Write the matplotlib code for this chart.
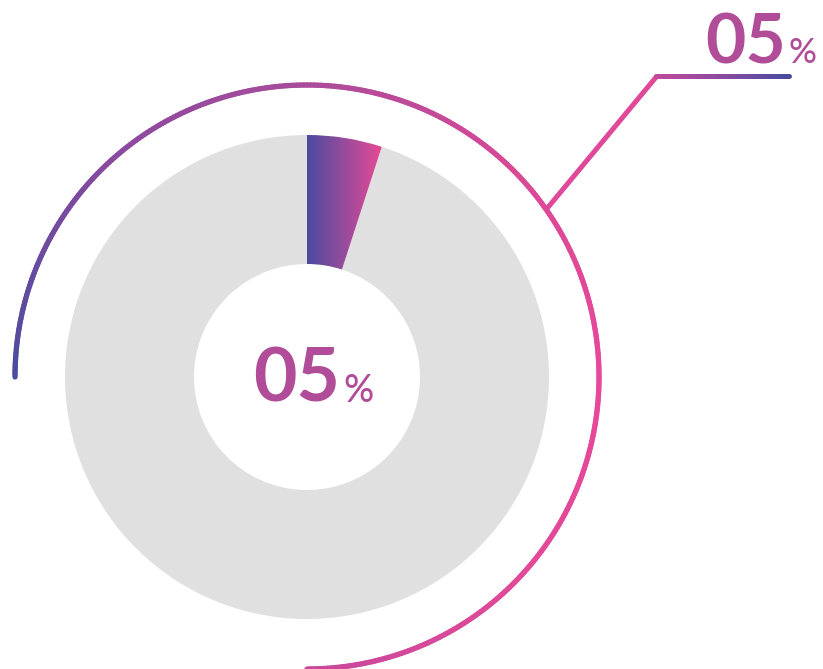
import numpy as np
import matplotlib.pyplot as plt
from matplotlib.collections import LineCollection
from matplotlib.colors import LinearSegmentedColormap

# data
share = 5
values = [share, 100 - share]
label_main = "05"
label_pct = "%"

blue = "#4b4c9f"
pink = "#ec4a93"
gray = "#e0e0e0"
text_col = "#b04c98"

fig = plt.figure(figsize=(8.23, 6.69), dpi=100)
ax = fig.add_axes([0, 0, 1, 1])

cx, cy = 307, 377
r_out, r_in = 242, 113

# donut (y axis inverted so counterclock=True runs clockwise on screen)
wedges, _ = ax.pie(values, center=(cx, cy), radius=r_out, startangle=-90,
                   counterclock=True, colors=["none", gray],
                   wedgeprops=dict(width=r_out - r_in, linewidth=0),
                   frame=True)
ax.set_xlim(0, 823)
ax.set_ylim(669, 0)
ax.set_aspect("equal")
ax.axis("off")

# gradient fill for the share wedge
grad_cmap = LinearSegmentedColormap.from_list("g", [blue, "#9a4b9c", pink])
grad = np.linspace(0, 1, 256).reshape(1, -1)
x0, x1 = cx, cx + r_out * np.sin(np.deg2rad(360 * share / 100)) + 2
im = ax.imshow(grad, cmap=grad_cmap, extent=(x0, x1, cy, cy - r_out - 2),
               aspect="auto", zorder=3)
im.set_clip_path(wedges[0])

# outer gradient arc, from left (180 deg) clockwise round to the bottom
arc_r = 292
ang = np.linspace(180, -90, 400)
px = cx + arc_r * np.cos(np.deg2rad(ang))
py = cy - arc_r * np.sin(np.deg2rad(ang))
pts = np.column_stack([px, py]).reshape(-1, 1, 2)
segs = np.concatenate([pts[:-1], pts[1:]], axis=1)
arc_cmap = LinearSegmentedColormap.from_list(
    "arc", [(0, blue), (0.17, "#874a9f"), (0.33, "#a94b9b"),
            (0.5, "#d84996"), (0.67, "#e8489a"), (0.83, "#e24998"),
            (1, "#c8489c")])
lc = LineCollection(segs, cmap=arc_cmap, linewidths=3.8, capstyle="round")
lc.set_array(np.linspace(0, 1, len(segs)))
ax.add_collection(lc)

# leader line
la = np.deg2rad(35)
sx, sy = cx + arc_r * np.cos(la), cy - arc_r * np.sin(la)
ax.plot([sx, 657], [sy, 76], color="#e0489a", lw=3.6, solid_capstyle="butt")
hx = np.linspace(656, 789, 80)
hpts = np.column_stack([hx, np.full_like(hx, 76)]).reshape(-1, 1, 2)
hsegs = np.concatenate([hpts[:-1], hpts[1:]], axis=1)
hl = LineCollection(hsegs, cmap=LinearSegmentedColormap.from_list(
    "h", ["#c04a9a", "#8a4a9f", blue]), linewidths=3.6, capstyle="round")
hl.set_array(np.linspace(0, 1, len(hsegs)))
ax.add_collection(hl)

fam = ["Lato", "DejaVu Sans"]
# centre label
ax.text(340, 402, label_main, fontsize=54, fontweight="bold", color=text_col,
        ha="right", va="baseline", family=fam)
ax.text(343, 402, label_pct, fontsize=27, fontweight="medium", color=text_col,
        ha="left", va="baseline", family=fam)
# callout label
ax.text(786, 63, label_main, fontsize=50, fontweight="bold", color=text_col,
        ha="right", va="baseline", family=fam)
ax.text(789, 63, label_pct, fontsize=25, fontweight="medium", color=text_col,
        ha="left", va="baseline", family=fam)

fig.savefig("out.png", dpi=100)
